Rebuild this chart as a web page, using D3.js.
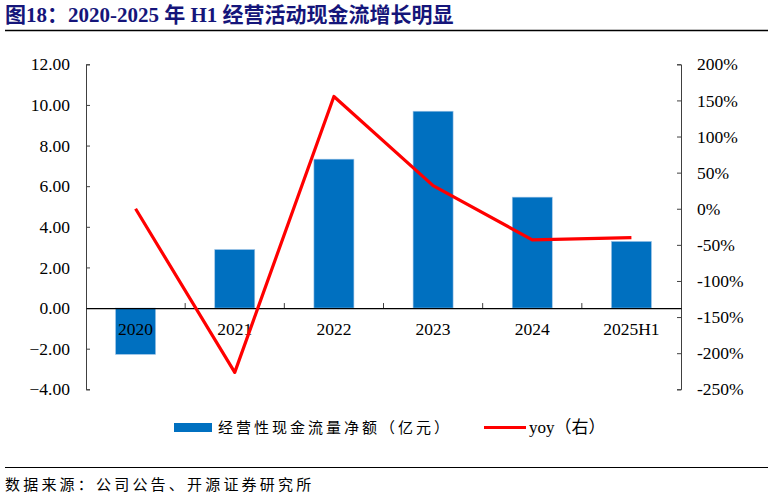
<!DOCTYPE html>
<html><head><meta charset="utf-8">
<script src="https://cdn.jsdelivr.net/npm/d3@7/dist/d3.min.js"></script>
<style>body{margin:0;background:#fff}svg{display:block}</style>
</head><body>
<svg id="c" width="774" height="498"></svg>
<script>
const categories = ["2020","2021","2022","2023","2024","2025H1"];
const cashFlow = [-2.28, 2.88, 7.33, 9.69, 5.46, 3.28];
const yoy = [0, -226.6, 155.5, 32, -43, -40];
const leftTicks = [-4,-2,0,2,4,6,8,10,12];
const rightTicks = [-250,-200,-150,-100,-50,0,50,100,150,200];
const titleText = "图18：2020-2025 年 H1 经营活动现金流增长明显";
const sourceText = "数据来源：公司公告、开源证券研究所";
const legendBar = "经营性现金流量净额（亿元）";
const legendLine = "yoy（右）";

const svg = d3.select("#c");
const serif = "'Liberation Serif','Times New Roman',serif";
const cjk = "'Noto Sans CJK SC',sans-serif";
const L = 86, R = 681, T = 64.3, B = 389.3;

const x = d3.scaleBand().domain(categories).range([L, R]);
const y = d3.scaleLinear().domain([-4, 12]).range([B, T]);
const y2 = d3.scaleLinear().domain([-250, 200]).range([B, T]);

// title
svg.append("text").attr("x", 5).attr("y", 22)
  .attr("fill", "#15157a").attr("font-weight", "bold").attr("font-size", 21)
  .attr("font-family", serif + "," + cjk).text(titleText);
svg.append("line").attr("x1", 5).attr("x2", 768).attr("y1", 30.5).attr("y2", 30.5)
  .attr("stroke", "#000").attr("stroke-width", 1.3);

// bars
svg.append("g").selectAll("rect").data(categories).join("rect")
  .attr("x", (d) => x(d) + x.bandwidth()/2 - 20)
  .attr("width", 40)
  .attr("y", (d,i) => Math.min(y(0), y(cashFlow[i])))
  .attr("height", (d,i) => Math.abs(y(cashFlow[i]) - y(0)))
  .attr("fill", "#0070C0").attr("stroke", "#9dc3e6").attr("stroke-width", 0.6);

// left axis
const la = svg.append("g").attr("transform", `translate(${L},0)`)
  .call(d3.axisLeft(y).tickValues(leftTicks).tickFormat(d3.format(".2f")).tickSize(-4).tickPadding(16));
la.select(".domain").attr("stroke", "#404040");
la.selectAll(".tick line").attr("stroke", "#404040");
la.selectAll("text").attr("font-family", serif).attr("font-size", 17.5).attr("fill", "#000");

// right axis
const ra = svg.append("g").attr("transform", `translate(${R},0)`)
  .call(d3.axisRight(y2).tickValues(rightTicks).tickFormat(d => d + "%").tickSize(-4).tickPadding(16));
ra.select(".domain").attr("stroke", "#404040");
ra.selectAll(".tick line").attr("stroke", "#404040");
ra.selectAll("text").attr("font-family", serif).attr("font-size", 17.5).attr("fill", "#000");

// x axis at zero
const xa = svg.append("g").attr("transform", `translate(0,${y(0)})`)
  .call(d3.axisBottom(x).tickSize(0).tickPadding(15));
xa.select(".domain").attr("stroke", "#000").attr("stroke-width", 1.2);
xa.selectAll("text").attr("font-family", serif).attr("font-size", 17.5).attr("fill", "#000");
// boundary ticks
svg.append("g").selectAll("line").data(categories.slice(1)).join("line")
  .attr("x1", d => x(d)).attr("x2", d => x(d))
  .attr("y1", y(0)).attr("y2", y(0) - 5)
  .attr("stroke", "#404040");

// line
const line = d3.line().x((d,i) => x(categories[i]) + x.bandwidth()/2).y(d => y2(d));
svg.append("path").datum(yoy).attr("d", line)
  .attr("fill", "none").attr("stroke", "#FF0000").attr("stroke-width", 3.2)
  .attr("stroke-linejoin", "round");

// legend
svg.append("rect").attr("x", 174).attr("y", 423).attr("width", 38).attr("height", 9).attr("fill", "#0070C0");
svg.append("text").attr("x", 218).attr("y", 433).attr("font-family", cjk).attr("font-size", 15)
  .attr("letter-spacing", 3.0).attr("fill", "#000").text(legendBar);
svg.append("line").attr("x1", 484).attr("x2", 526).attr("y1", 427.5).attr("y2", 427.5)
  .attr("stroke", "#FF0000").attr("stroke-width", 3);
svg.append("text").attr("x", 529).attr("y", 433).attr("font-family", serif + "," + cjk).attr("font-size", 17)
  .attr("fill", "#000").text(legendLine);

// footer
svg.append("line").attr("x1", 5).attr("x2", 768).attr("y1", 467.5).attr("y2", 467.5)
  .attr("stroke", "#000").attr("stroke-width", 1);
svg.append("text").attr("x", 5).attr("y", 490).attr("font-family", cjk).attr("font-size", 15)
  .attr("letter-spacing", 3.2).attr("fill", "#000").text(sourceText);
</script>
</body></html>
